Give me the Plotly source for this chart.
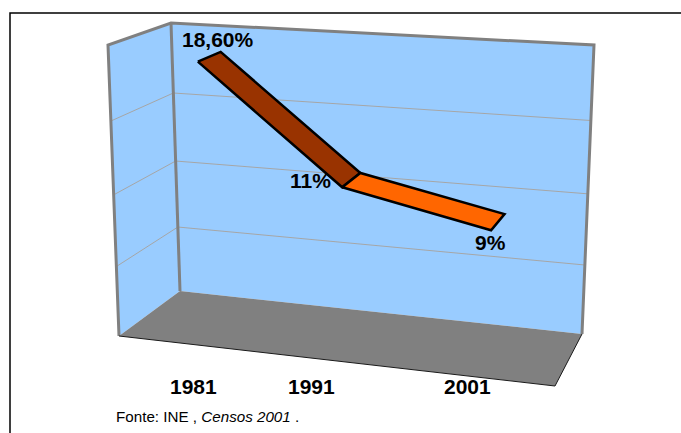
import plotly.graph_objects as go

# Chart data
years = ["1981", "1991", "2001"]
values = [18.6, 11, 9]
value_labels = ["18,60%", "11%", "9%"]
gridline_values = [5, 10, 15]
segment_colors = ["#993300", "#FF6600"]
source_note = "Fonte: INE , <i>Censos 2001</i> ."

# Value axis ceiling, its foreshortening, and the categories along the floor
VALUE_MAX = 20
VALUE_CURVE = 0.06
CATEGORY_U = [0.172, 0.493, 0.832]
RIBBON_DEPTH = (0.41, 0.81)
RIBBON_LIFT = 0.35

# Oblique box: corners of the back wall and of the open front
BACK = {"bl": (180, 291), "br": (582, 334), "tl": (171, 23), "tr": (594, 45)}
FRONT = {"bl": (119, 336), "br": (555, 386), "tl": (108, 45), "tr": (565, 74)}


def lerp(a, b, t):
    return (a[0] + (b[0] - a[0]) * t, a[1] + (b[1] - a[1]) * t)


def project(u, depth, value):
    """Map a (category, depth, value) position of the box to plot units."""
    share = value / VALUE_MAX
    v = share * (1 - VALUE_CURVE * (1 - share))
    back = lerp(lerp(BACK["bl"], BACK["br"], u), lerp(BACK["tl"], BACK["tr"], u), v)
    front = lerp(lerp(FRONT["bl"], FRONT["br"], u), lerp(FRONT["tl"], FRONT["tr"], u), v)
    return lerp(back, front, depth)


def polygon(points, fill, line_color=None, line_width=0):
    xs = [p[0] for p in points] + [points[0][0]]
    ys = [p[1] for p in points] + [points[0][1]]
    return go.Scatter(
        x=xs, y=ys, mode="lines", fill="toself", fillcolor=fill,
        line=dict(color=line_color or fill, width=line_width),
        hoverinfo="skip", showlegend=False,
    )


def path(points, color, width):
    return go.Scatter(
        x=[p[0] for p in points], y=[p[1] for p in points], mode="lines",
        line=dict(color=color, width=width), hoverinfo="skip", showlegend=False,
    )


fig = go.Figure()

# Walls and floor
fig.add_trace(polygon([FRONT["tl"], BACK["tl"], BACK["bl"], FRONT["bl"]], "#99CCFF"))
fig.add_trace(polygon([BACK["tl"], BACK["tr"], BACK["br"], BACK["bl"]], "#99CCFF"))
fig.add_trace(polygon([FRONT["bl"], BACK["bl"], BACK["br"], FRONT["br"]], "#808080"))

# Gridlines run along the side wall, then across the back wall
for g in gridline_values:
    fig.add_trace(path([project(0, 1, g), project(0, 0, g), project(1, 0, g)], "#A6A6A6", 1))

# Wall outlines and the floor's front edge
fig.add_trace(path([FRONT["bl"], FRONT["tl"], BACK["tl"], BACK["tr"], BACK["br"]], "#808080", 3))
fig.add_trace(path([BACK["tl"], BACK["bl"]], "#808080", 3))
fig.add_trace(path([FRONT["bl"], FRONT["br"], BACK["br"]], "#1A1A1A", 1))

# Ribbon segments between consecutive years
near, far = RIBBON_DEPTH[1], RIBBON_DEPTH[0]
for i, color in enumerate(segment_colors):
    a, b = values[i] + RIBBON_LIFT, values[i + 1] + RIBBON_LIFT
    ua, ub = CATEGORY_U[i], CATEGORY_U[i + 1]
    fig.add_trace(polygon(
        [project(ua, near, a), project(ua, far, a), project(ub, far, b), project(ub, near, b)],
        color, "#000000", 2.5,
    ))

# Chart frame, open on the right and the bottom
fig.add_trace(path([(10, 433), (10, 13), (681, 13)], "#000000", 1.5))

FONT = "Liberation Sans, Arial, sans-serif"
annotations = []
for text, (x, y) in zip(value_labels, [(218, 39), (310, 180), (490, 242)]):
    annotations.append(dict(x=x, y=y, text=f"<b>{text}</b>", showarrow=False,
                            font=dict(family=FONT, size=21, color="#000000")))
for text, x in zip(years, [193, 311, 467]):
    annotations.append(dict(x=x, y=386, text=f"<b>{text}</b>", showarrow=False,
                            font=dict(family=FONT, size=21, color="#000000")))
annotations.append(dict(x=114, y=416, text=source_note, showarrow=False, xanchor="left",
                        font=dict(family=FONT, size=15.2, color="#000000")))

fig.update_layout(
    width=681, height=433, margin=dict(l=0, r=0, t=0, b=0),
    paper_bgcolor="#FFFFFF", plot_bgcolor="#FFFFFF", showlegend=False,
    xaxis=dict(range=[0, 681], visible=False, fixedrange=True),
    yaxis=dict(range=[433, 0], visible=False, fixedrange=True),
    annotations=annotations,
)

fig.write_html("out.html", config={"displayModeBar": False})
